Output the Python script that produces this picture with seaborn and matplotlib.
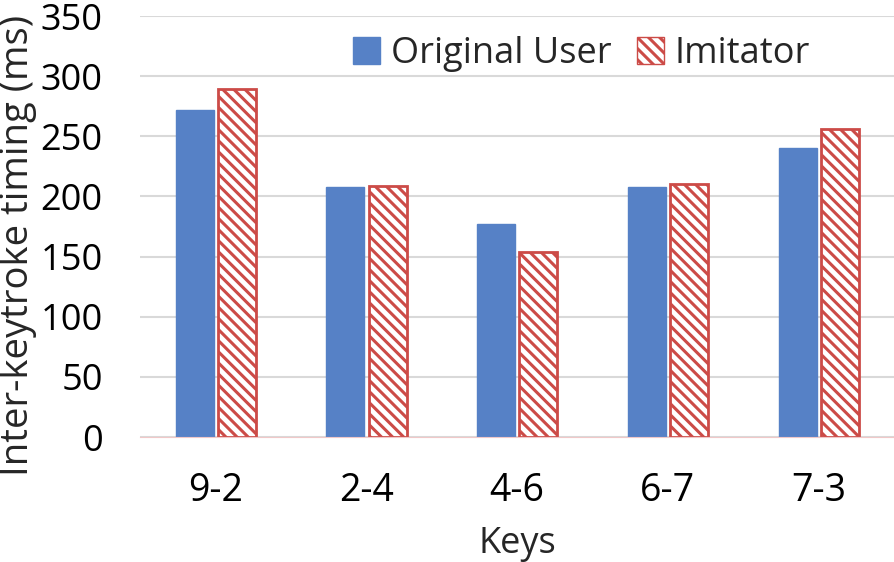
import matplotlib
matplotlib.use("Agg")
import matplotlib.pyplot as plt
import seaborn as sns
import pandas as pd

keys = ["9-2", "2-4", "4-6", "6-7", "7-3"]
original_user = [272, 208, 177, 208, 240]
imitator = [289, 209, 154, 210, 256]

df = pd.DataFrame({
    "Keys": keys * 2,
    "timing": original_user + imitator,
    "group": ["Original User"] * len(keys) + ["Imitator"] * len(keys),
})

sns.set_style("white")
plt.rcParams["font.family"] = ["Open Sans", "DejaVu Sans"]
plt.rcParams["hatch.linewidth"] = 2.2

blue = "#5681C6"
red = "#CC4B47"

fig = plt.figure(figsize=(8.94, 5.62), dpi=100)
ax = fig.add_axes([0.157, 0.2224, 0.843, 0.7491])

sns.barplot(data=df, x="Keys", y="timing", hue="group", order=keys,
            hue_order=["Original User", "Imitator"],
            palette=[blue, "white"], width=0.56, gap=0.1, ax=ax,
            legend=True, saturation=1)

for bar in ax.containers[0]:
    bar.set_edgecolor(blue)
for bar in ax.containers[1]:
    bar.set_facecolor("white")
    bar.set_edgecolor(red)
    bar.set_hatch("\\\\\\")
    bar.set_linewidth(2)

ax.set_ylim(0, 350)
ax.set_yticks(range(0, 351, 50))
ax.set_xlim(-0.5, 4.5)
ax.yaxis.grid(True, color="#D9D9D9", linewidth=1.5)
ax.set_axisbelow(True)
for side in ["top", "right", "left"]:
    ax.spines[side].set_visible(False)
ax.spines["bottom"].set_color("#F0C8C8")
ax.tick_params(axis="both", length=0, colors="black")
ax.tick_params(axis="y", pad=27, labelsize=26)
ax.tick_params(axis="x", pad=25, labelsize=27)
ax.set_xlabel("Keys", fontsize=26, labelpad=12)
ax.set_ylabel("Inter-keytroke timing (ms)", fontsize=27.5)
ax.yaxis.set_label_coords(-0.137, 0.455)

handles, labels = ax.get_legend_handles_labels()
leg = ax.legend(handles, labels, loc="upper center", bbox_to_anchor=(0.585, 1.03),
                ncol=2, frameon=False, fontsize=26, handlelength=0.75,
                handleheight=0.75, handletextpad=0.3, columnspacing=0.7)
leg.legend_handles[0].set_facecolor(blue)
leg.legend_handles[0].set_edgecolor(blue)
leg.legend_handles[1].set_facecolor("white")
leg.legend_handles[1].set_edgecolor(red)
leg.legend_handles[1].set_hatch("\\\\\\")

fig.savefig("out.png", dpi=100)
